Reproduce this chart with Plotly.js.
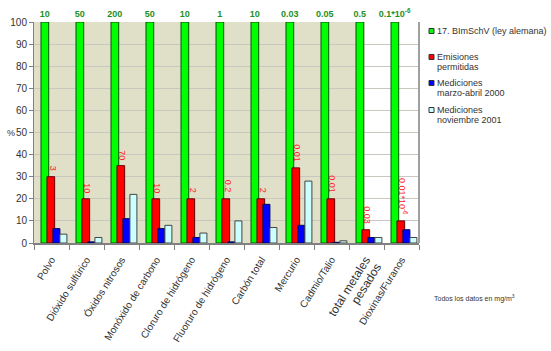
<!DOCTYPE html>
<html><head><meta charset="utf-8">
<script src="https://cdn.plot.ly/plotly-3.0.1.min.js"></script>
<style>html,body{margin:0;padding:0;background:#fff;}#chart{width:551px;height:351px;}</style>
</head><body><div id="chart"></div>
<script>
const categories = ["Polvo","Dióxido sulfúrico","Óxidos nitrosos","Monóxido de carbono","Cloruro de hidrógeno","Fluoruro de hidrógeno","Carbón total","Mercurio","Cadmio/Talio","total metales pesados","Dioxinas/Furanos"];
const tickLabels = ["Polvo","Dióxido sulfúrico","Óxidos nitrosos","Monóxido de carbono","Cloruro de hidrógeno","Fluoruro de hidrógeno","Carbón total","Mercurio","Cadmio/Talio","<span style=\"font-size:12px\">total metales<br>pesados</span>","Dioxinas/Furanos"];
const seriesNames = ["17. BImSchV (ley alemana)","Emisiones<br>permitidas","Mediciones<br>marzo-abril 2000","Mediciones<br>noviembre 2001"];
const limitValues = [100,100,100,100,100,100,100,100,100,100,100];
const permittedValues = [30,20,35,20,20,20,20,34,20,6,10];
const march2000Values = [6.5,0.5,11,6.5,2.5,0.5,17.5,8,0.3,2.5,6];
const nov2001Values = [4,2.5,22,8,4.5,10,7,28,1,2.5,2.5];
const limitLabels = ["10","50","200","50","10","1","10","0.03","0.05","0.5","0.1*10<sup>-6</sup>"];
const permittedLabels = ["3","10","70","10","2","0.2","2","0.01","0.01","0.03","0.01*10<sup>-6</sup>"];
const seriesColors = ["#00ff00","#ff0000","#0000ff","#ccffff"];
const seriesEdges = ["#005500","#660000","#000055","#444444"];

const FONT = "Liberation Sans, Arial, sans-serif";
const L = 34, R = 419, T = 22, B = 243;
const px = v => (v - L) / (R - L);
const py = v => (B - v) / (B - T);

const traces = [
  {type:'bar', name:seriesNames[0], x:categories, y:limitValues, text:limitLabels, textposition:'outside', textangle:0,
   constraintext:'none', cliponaxis:false, textfont:{family:FONT,size:9,color:'#1f8f1f',weight:'bold'},
   width:0.22, offset:-0.30, marker:{color:seriesColors[0], line:{color:seriesEdges[0], width:1}}, hoverinfo:'skip'},
  {type:'bar', name:seriesNames[1], x:categories, y:permittedValues,
   width:0.22, offset:-0.13, marker:{color:seriesColors[1], line:{color:seriesEdges[1], width:1}}, hoverinfo:'skip'},
  {type:'bar', name:seriesNames[2], x:categories, y:march2000Values,
   width:0.2, offset:0.04, marker:{color:seriesColors[2], line:{color:seriesEdges[2], width:1}}, hoverinfo:'skip'},
  {type:'bar', name:seriesNames[3], x:categories, y:nov2001Values,
   width:0.2, offset:0.24, marker:{color:seriesColors[3], line:{color:seriesEdges[3], width:1}}, hoverinfo:'skip'}
];

const annotations = [
  {text:'%', xref:'paper', yref:'paper', x:px(5), y:py(133), showarrow:false, font:{family:FONT,size:9,color:'#333'}},
  {text:'Todos los datos en mg/m<sup>3</sup>', xref:'paper', yref:'paper', x:px(432), y:py(298), xanchor:'left', yanchor:'middle', showarrow:false, font:{family:FONT,size:7,color:'#333'}}
];
// red value labels above the permitted-emission bars
categories.forEach((c, i) => {
  annotations.push({text:permittedLabels[i], x:c, y:permittedValues[i], xref:'x', yref:'y', textangle:90,
    xanchor:'center', yanchor:'bottom', yshift:4, xshift:1, showarrow:false,
    font:{family:FONT,size:9,color:'#ff2020'}});
});
// custom legend
const legendRows = [[31],[57,67],[83,93],[110,120]];
const shapes = [
  {type:'rect', xref:'x', yref:'y', x0:-0.5, x1:8.96, y0:0, y1:100, fillcolor:'#e0e0c8', line:{width:0}, layer:'below'},
  {type:'line', xref:'paper', yref:'paper', x0:1, x1:1, y0:0, y1:1, line:{color:'#a0a0a0', width:2}}
];
seriesNames.forEach((n, i) => {
  const lines = n.split('<br>');
  const y0 = legendRows[i][0];
  shapes.push({type:'rect', xref:'paper', yref:'paper', x0:px(429), x1:px(434), y0:py(y0+2.5), y1:py(y0-2.5),
    fillcolor:seriesColors[i], line:{color:'#333', width:1}});
  lines.forEach((t, j) => {
    annotations.push({text:t, xref:'paper', yref:'paper', x:px(435), y:py(legendRows[i][j]), xanchor:'left', yanchor:'middle',
      showarrow:false, font:{family:FONT,size:9,color:'#333'}});
  });
});

const layout = {
  width:551, height:351,
  margin:{l:L, r:551-R, t:T, b:351-B, autoexpand:false},
  barmode:'overlay',
  paper_bgcolor:'#ffffff', plot_bgcolor:'#ffffff',
  font:{family:FONT, size:9, color:'#333'},
  showlegend:false,
  xaxis:{type:'category', tickvals:categories, ticktext:tickLabels, tickangle:-58,
         tickson:'boundaries', ticks:'outside', ticklen:5, tickcolor:'#808080', ticklabelstandoff:5,
         showline:true, linecolor:'#808080', linewidth:2, showgrid:false,
         tickfont:{family:FONT,size:10,color:'#333'}, range:[-0.5,10.5]},
  yaxis:{range:[0,100], tickvals:[0,10,20,30,40,50,60,70,80,90,100], ticks:'outside', ticklen:4, tickcolor:'#808080',
         showline:true, linecolor:'#808080', linewidth:1, gridcolor:'#c8c8c0', zeroline:false,
         tickfont:{family:FONT,size:10,color:'#333'}},
  shapes:shapes,
  annotations:annotations
};
Plotly.newPlot('chart', traces, layout, {displayModeBar:false, staticPlot:true});
</script></body></html>
